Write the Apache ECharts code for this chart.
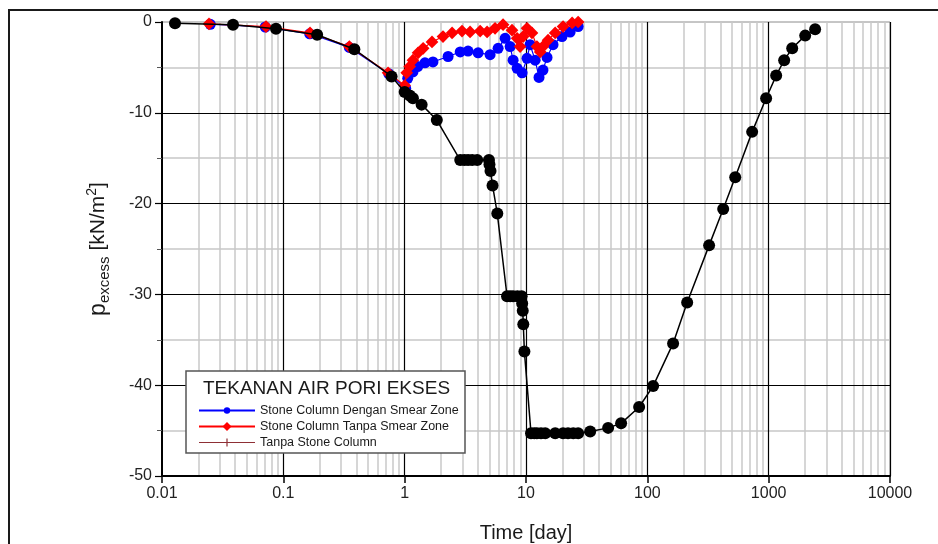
<!DOCTYPE html>
<html>
<head>
<meta charset="utf-8">
<script src="https://cdn.jsdelivr.net/npm/echarts@6/dist/echarts.min.js"></script>
<style>
	html, body { margin: 0; padding: 0; background: #fff; }
	#main { width: 938px; height: 544px; }
</style>
</head>
<body>
<div id="main"></div>
<script>
// data: [time (day), p excess (kN/m2)]
var smearData = [
	[0.025, -0.25], [0.071, -0.55], [0.165, -1.3], [0.35, -2.8], [0.74, -5.7],
	[1.02, -7.3], [1.06, -6.2], [1.17, -5.5], [1.28, -4.9], [1.47, -4.5], [1.71, -4.4],
	[2.28, -3.8], [2.87, -3.3], [3.33, -3.2], [4.03, -3.4], [5.06, -3.6], [5.89, -2.9],
	[6.73, -1.8], [7.4, -2.7], [7.83, -4.2], [8.45, -5.1], [9.29, -5.6], [10.2, -4.0],
	[10.8, -2.5], [11.9, -4.2], [12.8, -6.1], [13.8, -5.3], [14.9, -3.9], [16.7, -2.5],
	[19.8, -1.6], [23.1, -1.1], [26.9, -0.5]
];

var noSmearData = [
	[0.0244, -0.2], [0.072, -0.5], [0.166, -1.2], [0.35, -2.7], [0.73, -5.6],
	[1.0, -7.0], [1.04, -5.6], [1.1, -4.9], [1.17, -4.2], [1.29, -3.4], [1.42, -2.9],
	[1.68, -2.2], [2.07, -1.6], [2.46, -1.2], [2.97, -1.0], [3.46, -1.1], [4.19, -1.0],
	[4.78, -1.1], [5.56, -0.7], [6.47, -0.3], [7.67, -0.9], [8.45, -1.8], [8.94, -2.7],
	[9.47, -1.6], [10.2, -0.7], [11.2, -1.2], [12.3, -2.7], [13.1, -3.3], [13.8, -2.7],
	[15.2, -2.0], [17.4, -1.2], [20.2, -0.5], [24.0, -0.1], [26.9, 0]
];

var noColumnData = [
	[0.0128, -0.15], [0.0385, -0.3], [0.087, -0.75], [0.19, -1.4], [0.385, -3.0],
	[0.78, -6.0], [1.0, -7.7], [1.1, -8.1], [1.17, -8.4], [1.38, -9.1], [1.84, -10.8],
	[2.87, -15.2], [3.1, -15.2], [3.33, -15.2], [3.6, -15.2], [3.96, -15.2],
	[4.95, -15.2], [5.0, -15.7], [5.1, -16.4], [5.3, -18.0], [5.8, -21.1],
	[6.98, -30.2], [7.4, -30.2], [7.83, -30.2], [8.5, -30.2], [9.2, -30.2],
	[9.3, -31.0], [9.4, -31.8], [9.5, -33.3], [9.7, -36.3],
	[11.0, -45.3], [11.7, -45.3], [12.3, -45.3], [13.3, -45.3], [14.4, -45.3],
	[17.4, -45.3], [20.2, -45.3], [22.2, -45.3], [24.5, -45.3], [26.9, -45.3],
	[33.8, -45.1], [47.5, -44.7], [60.8, -44.2], [85.6, -42.4], [111.6, -40.1],
	[163, -35.4], [213, -30.9], [323, -24.6], [422, -20.6], [530, -17.1],
	[731, -12.1], [953, -8.4], [1153, -5.9], [1342, -4.2], [1563, -2.9],
	[2000, -1.5], [2415, -0.8]
];

var seriesNames = ['Stone Column Dengan Smear Zone', 'Stone Column Tanpa Smear Zone', 'Tanpa Stone Column'];
var legendTitle = 'TEKANAN AIR PORI EKSES';

// minor grid of the log axis: 2..9 in each decade
var decades = [0.01, 0.1, 1, 10, 100, 1000];
var minorSteps = [2, 3, 4, 5, 6, 7, 8, 9];

var fontName = 'Liberation Sans';

function minorLines() {
	var lines = [];
	for (var i = 0; i < decades.length; i++) {
		for (var j = 0; j < minorSteps.length; j++) {
			lines.push({ xAxis: +(decades[i] * minorSteps[j]).toPrecision(6) });
		}
	}
	return lines;
}

var option = {
	animation : false,
	backgroundColor : '#fff',
	textStyle : { fontFamily : fontName },
	grid : {
		left : 162,
		top : 22,
		width : 728,
		height : 454,
		show : true,
		borderColor : '#8c8c8c',
		borderWidth : 1,
		containLabel : false,
		outerBoundsMode : 'none'
	},
	title : {
		text : legendTitle,
		left : 198,
		top : 374,
		z : 12,
		textStyle : { fontSize : 19, fontWeight : 'normal', color : '#1a1a1a', fontFamily : fontName }
	},
	legend : {
		orient : 'vertical',
		left : 193,
		top : 399,
		z : 12,
		itemWidth : 56,
		itemHeight : 8,
		itemGap : 3,
		textStyle : { fontSize : 12.5, color : '#1a1a1a', lineHeight : 13, fontFamily : fontName },
		data : [
			{ name : seriesNames[0] },
			{ name : seriesNames[1] },
			{
				name : seriesNames[2],
				icon : 'path://M0,4.4h56v1.2h-56zM27.4,1h1.2v8h-1.2z',
				itemStyle : { color : '#8e2f35' }
			}
		]
	},
	graphic : [ {
		type : 'rect',
		z : 10,
		shape : { x : 9, y : 10, width : 1000, height : 600 },
		style : { fill : 'none', stroke : '#1a1a1a', lineWidth : 2 }
	}, {
		type : 'rect',
		z : 10,
		shape : { x : 186, y : 371, width : 279, height : 82 },
		style : { fill : '#fff', stroke : '#555', lineWidth : 1.5 }
	} ],
	xAxis : {
		type : 'log',
		logBase : 10,
		min : 0.01,
		max : 10000,
		splitNumber : 6,
		z : 2,
		name : 'Time [day]',
		nameLocation : 'middle',
		nameGap : 47,
		nameTextStyle : { fontSize : 20, color : '#1a1a1a' },
		axisLine : { onZero : false, lineStyle : { color : '#000', width : 2 } },
		axisTick : { length : 7, lineStyle : { color : '#000', width : 1.5 } },
		axisLabel : {
			margin : 10,
			fontSize : 16,
			color : '#222',
			formatter : function(v) { return String(+(+v).toPrecision(6)); }
		},
		splitLine : { show : true, showMinLine : false, lineStyle : { color : '#000', width : 1.2 } }
	},
	yAxis : {
		type : 'value',
		min : -50,
		max : 0,
		interval : 10,
		z : 2,
		name : '{p|p}{sub|excess}{u| [kN/m}{sup|2}{u|]}',
		nameLocation : 'middle',
		nameRotate : 90,
		nameGap : 50,
		nameTextStyle : {
			color : '#1a1a1a',
			rich : {
				p : { fontSize : 23, color : '#1a1a1a', verticalAlign : 'middle' },
				sub : { fontSize : 15, color : '#1a1a1a', verticalAlign : 'bottom', padding : [12, 0, 0, 0] },
				u : { fontSize : 21, color : '#1a1a1a', verticalAlign : 'middle' },
				sup : { fontSize : 14, color : '#1a1a1a', verticalAlign : 'top', padding : [0, 0, 12, 0] }
			}
		},
		axisLine : { onZero : false, lineStyle : { color : '#000', width : 2 } },
		axisTick : { length : 7, lineStyle : { color : '#000', width : 1.2 } },
		minorTick : { show : true, splitNumber : 2, length : 5, lineStyle : { color : '#555', width : 1 } },
		axisLabel : { margin : 10, fontSize : 16, color : '#222' },
		splitLine : { show : true, showMinLine : false, showMaxLine : false, lineStyle : { color : '#000', width : 1.2 } },
		minorSplitLine : { show : true, lineStyle : { color : '#c8c8c8', width : 1.5 } }
	},
	series : [ {
		name : 'minor',
		type : 'line',
		data : [],
		z : 1,
		silent : true,
		markLine : {
			silent : true,
			z : 1,
			symbol : ['none', 'none'],
			label : { show : false },
			lineStyle : { color : '#c8c8c8', width : 1.5, type : 'solid' },
			data : minorLines()
		}
	}, {
		name : seriesNames[0],
		type : 'line',
		z : 3,
		data : smearData,
		symbol : 'circle',
		symbolSize : 11,
		itemStyle : { color : '#0000ff' },
		lineStyle : { color : '#0000ff', width : 1.2 }
	}, {
		name : seriesNames[1],
		type : 'line',
		z : 4,
		data : noSmearData,
		symbol : 'rect',
		symbolSize : 9,
		symbolRotate : 45,
		itemStyle : { color : '#ff0000' },
		lineStyle : { color : '#ff0000', width : 1.2 }
	}, {
		name : seriesNames[2],
		type : 'line',
		z : 5,
		data : noColumnData,
		symbol : 'circle',
		symbolSize : 12,
		itemStyle : { color : '#000' },
		lineStyle : { color : '#000', width : 1.5 }
	} ]
};

var myChart = echarts.init(document.getElementById('main'));
myChart.setOption(option);
</script>
</body>
</html>
